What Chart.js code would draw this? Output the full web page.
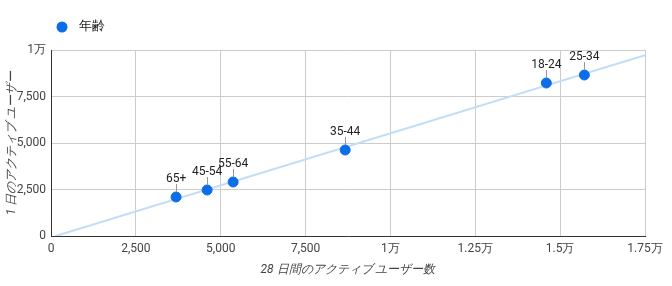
<!DOCTYPE html>
<html><head><meta charset="utf-8">
<script src="https://cdn.jsdelivr.net/npm/chart.js@4"></script>
<style>html,body{margin:0;padding:0;background:#fff}#wrap{width:672px;height:286px}</style>
</head><body><div id="wrap"><canvas id="c" width="672" height="286"></canvas></div>
<script>
const labels = ["65+", "45-54", "55-64", "35-44", "18-24", "25-34"];
const users28 = [3685, 4600, 5366, 8667, 14593, 15714];
const users1 = [2097, 2473, 2903, 4624, 8226, 8656];
const xTicks = [0, 2500, 5000, 7500, 10000, 12500, 15000, 17500];
const yTicks = [0, 2500, 5000, 7500, 10000];
const seriesName = "年齢";
const xTitle = "28 日間のアクティブ ユーザー数";
const yTitle = "1 日のアクティブ ユーザー";

// least squares trendline from the data
const n = users28.length;
const mx = users28.reduce((a,b)=>a+b,0)/n, my = users1.reduce((a,b)=>a+b,0)/n;
let sxy=0, sxx=0;
for (let i=0;i<n;i++){sxy+=(users28[i]-mx)*(users1[i]-my);sxx+=(users28[i]-mx)**2;}
const slope=sxy/sxx, icpt=my-slope*mx;
const x0=Math.max(0,-icpt/slope), x1=xTicks[xTicks.length-1];
const trend=[{x:x0,y:slope*x0+icpt},{x:x1,y:slope*x1+icpt}];

const fmt = v => v>=10000 ? (v/10000)+"万" : v.toLocaleString("en-US");
const FONT = "Roboto";

const deco = {
  id:"deco",
  afterDatasetsDraw(chart){
    const ctx=chart.ctx, meta=chart.getDatasetMeta(0);
    ctx.save();
    meta.data.forEach((p,i)=>{
      ctx.strokeStyle="#999"; ctx.lineWidth=1;
      ctx.beginPath(); ctx.moveTo(Math.round(p.x)+0.5,p.y-13); ctx.lineTo(Math.round(p.x)+0.5,p.y-5); ctx.stroke();
      ctx.fillStyle="#222"; ctx.font="12px "+FONT; ctx.textAlign="center"; ctx.textBaseline="alphabetic";
      ctx.fillText(labels[i], p.x, p.y-15);
    });
    ctx.restore();
  },
  afterDraw(chart){
    const ctx=chart.ctx, a=chart.chartArea;
    ctx.save();
    // legend
    ctx.fillStyle="#0b6ee8"; ctx.beginPath(); ctx.arc(62,27,5.5,0,Math.PI*2); ctx.fill();
    ctx.fillStyle="#222"; ctx.font="13px "+FONT; ctx.textAlign="left"; ctx.textBaseline="middle";
    ctx.fillText(seriesName, 79, 27);
    // axis titles
    ctx.fillStyle="#444"; ctx.font="italic 12px "+FONT; ctx.textAlign="center";
    ctx.fillText(xTitle, (a.left+a.right)/2, 270);
    ctx.translate(12,(a.top+a.bottom)/2); ctx.rotate(-Math.PI/2);
    ctx.fillText(yTitle, 0, 0);
    ctx.restore();
  }
};

new Chart(document.getElementById("c"), {
  type:"scatter",
  data:{datasets:[
    {label:seriesName, data:users28.map((x,i)=>({x, y:users1[i]})), backgroundColor:"#0b6ee8", borderColor:"#0b6ee8", pointRadius:5, pointHoverRadius:5, order:0},
    {type:"line", label:"trend", data:trend, borderColor:"#c3ddf7", borderWidth:2, pointRadius:0, fill:false, order:1}
  ]},
  options:{
    responsive:false, animation:false, devicePixelRatio:1,
    layout:{padding:{top:50,right:27,left:0,bottom:0}},
    plugins:{legend:{display:false}, tooltip:{enabled:false}},
    scales:{
      x:{type:"linear", min:0, max:17500,
        afterFit(s){s.height=50;},
        afterBuildTicks(s){s.ticks=xTicks.map(v=>({value:v}));},
        grid:{color:"#ccc", drawTicks:false, tickLength:0},
        border:{color:"#333", width:1},
        ticks:{padding:6, color:"#444", font:{family:FONT,size:12}, maxRotation:0, callback:v=>fmt(v)}},
      y:{type:"linear", min:0, max:10000,
        afterFit(s){s.width=51;},
        afterBuildTicks(s){s.ticks=yTicks.map(v=>({value:v}));},
        grid:{color:"#ccc", drawTicks:false, tickLength:0},
        border:{color:"#333", width:1},
        ticks:{padding:5, color:"#444", font:{family:FONT,size:12}, callback:v=>fmt(v)}}
    }
  },
  plugins:[deco]
});
</script></body></html>
